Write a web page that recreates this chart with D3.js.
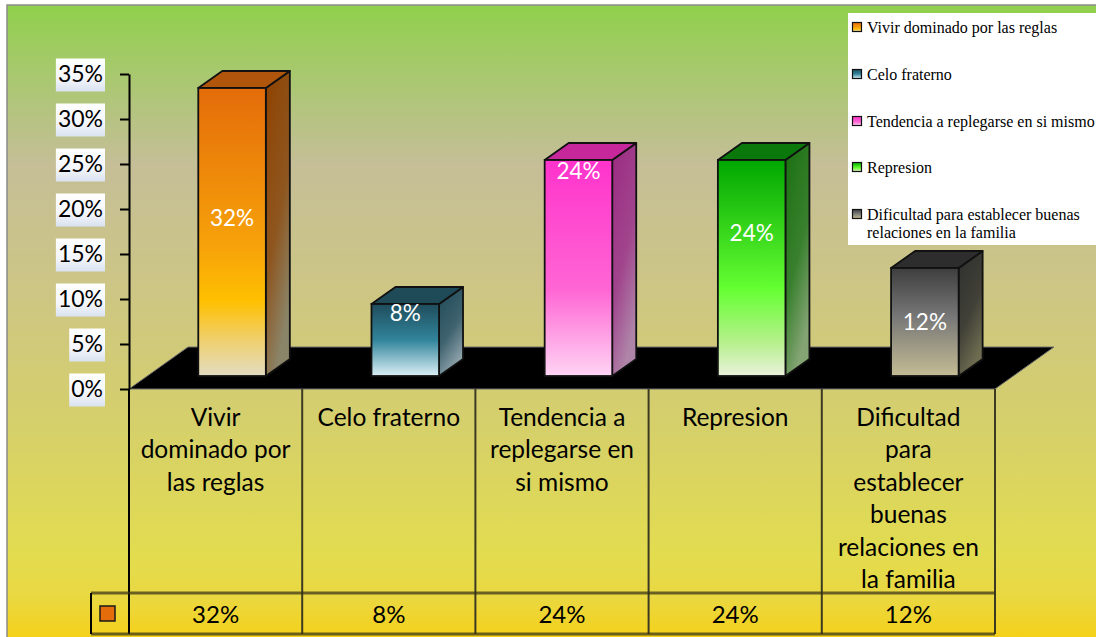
<!DOCTYPE html>
<html>
<head>
<meta charset="utf-8">
<script src="https://cdn.jsdelivr.net/npm/d3@7/dist/d3.min.js"></script>
<style>
  body { margin: 0; background: #fff; }
  svg { display: block; }
</style>
</head>
<body>
<div id="chart"></div>
<script>
// data
const categories = [
  'Vivir dominado por las reglas',
  'Celo fraterno',
  'Tendencia a replegarse en si mismo',
  'Represion',
  'Dificultad para establecer buenas relaciones en la familia'
];
const values = [32, 8, 24, 24, 12];
const categoryLines = [
  ['Vivir', 'dominado por', 'las reglas'],
  ['Celo fraterno'],
  ['Tendencia a', 'replegarse en', 'si mismo'],
  ['Represion'],
  ['Dificultad', 'para', 'establecer', 'buenas', 'relaciones en', 'la familia']
];
const legendLines = [
  ['Vivir dominado por las reglas'],
  ['Celo fraterno'],
  ['Tendencia a replegarse en si mismo'],
  ['Represion'],
  ['Dificultad para establecer buenas', 'relaciones en la familia']
];
const yTicks = [0, 5, 10, 15, 20, 25, 30, 35];
// level (in %) where each in-bar label was placed
const labelLevels = [17.6, 7.1, 22.8, 16, 6.1];

// face colours: [front stops], side [top,bottom], top
const palette = [
  { front: [[0, '#e46c0a'], [0.55, '#f7a20a'], [0.74, '#ffc000'], [0.87, '#f0cf6a'], [1, '#e2dcc2']], side: ['#8f4200', '#8a8468'], top: '#b0560c' },
  { front: [[0, '#1f4d5c'], [0.5, '#31849b'], [1, '#dcf0f6']], side: ['#1d4855', '#8ea2aa'], top: '#1f4b58' },
  { front: [[0, '#ff33cc'], [0.6, '#ff66d4'], [1, '#ffd4f4']], side: ['#9c2a82', '#ae84a8'], top: '#c6289c' },
  { front: [[0, '#00a600'], [0.6, '#66ff33'], [0.85, '#b8f08e'], [1, '#eaf2dc']], side: ['#197010', '#84a474'], top: '#0b780b' },
  { front: [[0, '#3e3e3e'], [0.45, '#777777'], [1, '#c4bc94']], side: ['#2e2e2e', '#6e6c50'], top: '#2d2d2d' }
];

const W = 1096, H = 637;
const font = 'Lato, "Open Sans", sans-serif';

const svg = d3.select('#chart').append('svg')
  .attr('width', W)
  .attr('height', H);

const defs = svg.append('defs');

const bg = defs.append('linearGradient')
  .attr('id', 'bg')
  .attr('x1', 0).attr('y1', 0).attr('x2', 0).attr('y2', 1);
[[0, '#90d04c'], [0.1, '#a6c96c'], [0.25, '#c5be97'], [0.45, '#cdc684'], [0.65, '#d5cf6c'], [0.86, '#e2dc50'], [0.93, '#ead841'], [1, '#f6d016']]
  .forEach(s => bg.append('stop').attr('offset', s[0]).attr('stop-color', s[1]));

const tickBg = defs.append('linearGradient')
  .attr('id', 'tickbg')
  .attr('x1', 0).attr('y1', 0).attr('x2', 0).attr('y2', 1);
tickBg.append('stop').attr('offset', 0).attr('stop-color', '#ffffff');
tickBg.append('stop').attr('offset', 0.6).attr('stop-color', '#f4f6fb');
tickBg.append('stop').attr('offset', 1).attr('stop-color', '#d9e2f0');

palette.forEach((p, i) => {
  const f = defs.append('linearGradient').attr('id', 'front' + i)
    .attr('x1', 0).attr('y1', 0).attr('x2', 0).attr('y2', 1);
  p.front.forEach(s => f.append('stop').attr('offset', s[0]).attr('stop-color', s[1]));
  const sd = defs.append('linearGradient').attr('id', 'side' + i)
    .attr('x1', 0).attr('y1', 0).attr('x2', 0.4).attr('y2', 1);
  sd.append('stop').attr('offset', 0).attr('stop-color', p.side[0]);
  sd.append('stop').attr('offset', 0.6).attr('stop-color', d3.interpolateRgb(p.side[0], p.side[1])(0.3));
  sd.append('stop').attr('offset', 1).attr('stop-color', p.side[1]);
});

// background
svg.append('rect')
  .attr('x', 7).attr('y', 5)
  .attr('width', W).attr('height', H)
  .attr('fill', 'url(#bg)')
  .attr('stroke', '#8a8a8a')
  .attr('stroke-width', 1.5);

// scales
const x = d3.scaleBand().domain(categories).range([129, 995]);
const y = d3.scaleLinear().domain([0, 35]).range([389, 74]);
const bw = x.bandwidth();

// floor
const floorDx = 59, floorDy = -42;
svg.append('path')
  .attr('d', `M${x.range()[0]},${y(0)}L${x.range()[1]},${y(0)}L${x.range()[1] + floorDx},${y(0) + floorDy}L${x.range()[0] + floorDx},${y(0) + floorDy}Z`)
  .attr('fill', '#000')
  .attr('stroke', '#6f6f6f')
  .attr('stroke-width', 1);

// bars
const barW = bw * 0.39, barOff = bw * 0.4;
const depthX = 24, depthY = -17, baseLift = 13;

const bars = svg.append('g')
  .selectAll('g')
  .data(categories)
  .join('g');

bars.each(function (c, i) {
  const g = d3.select(this);
  const x0 = x(c) + barOff, x1 = x0 + barW;
  const yb = y(0) - baseLift, yt = y(values[i]) - baseLift;

  g.append('path')
    .attr('d', `M${x1},${yt}L${x1 + depthX},${yt + depthY}L${x1 + depthX},${yb + depthY}L${x1},${yb}Z`)
    .attr('fill', `url(#side${i})`)
    .attr('stroke', '#111').attr('stroke-width', 1.8).attr('stroke-linejoin', 'round');
  g.append('path')
    .attr('d', `M${x0},${yt}L${x0 + depthX},${yt + depthY}L${x1 + depthX},${yt + depthY}L${x1},${yt}Z`)
    .attr('fill', palette[i].top)
    .attr('stroke', '#111').attr('stroke-width', 1.8).attr('stroke-linejoin', 'round');
  g.append('rect')
    .attr('x', x0).attr('y', yt)
    .attr('width', barW).attr('height', yb - yt)
    .attr('fill', `url(#front${i})`)
    .attr('stroke', '#111').attr('stroke-width', 1.8);

  g.append('text')
    .attr('x', x0 + barW / 2)
    .attr('y', y(labelLevels[i]) - baseLift)
    .attr('text-anchor', 'middle')
    .attr('dominant-baseline', 'central')
    .attr('font-family', font)
    .attr('font-size', '22.5px')
    .attr('fill', '#fff')
    .text(values[i] + '%');
});

// y axis
const axisG = svg.append('g')
  .attr('transform', `translate(${x.range()[0]},0)`)
  .call(d3.axisLeft(y).tickValues(yTicks).tickSize(9).tickSizeOuter(0).tickPadding(17).tickFormat(d => d + '%'));

axisG.select('.domain').attr('stroke', '#000').attr('stroke-width', 2);
axisG.selectAll('.tick line').attr('stroke', '#000').attr('stroke-width', 2);
axisG.selectAll('.tick text')
  .attr('font-family', font)
  .attr('font-size', '23px')
  .attr('fill', '#000');

axisG.selectAll('.tick').each(function () {
  const t = d3.select(this);
  const box = t.select('text').node().getBBox();
  t.insert('rect', 'text')
    .attr('x', box.x - 2)
    .attr('y', -16)
    .attr('width', box.width + 4)
    .attr('height', 33)
    .attr('fill', 'url(#tickbg)');
});

// data table below the floor
const table = svg.append('g');
const tTop = y(0), tMid = 593, tBot = 634, keyX = 91;
const colEdges = categories.map(c => x(c)).concat([x.range()[1]]);

table.selectAll('line.col')
  .data(colEdges)
  .join('line')
  .attr('x1', d => d).attr('x2', d => d)
  .attr('y1', tTop).attr('y2', tBot)
  .attr('stroke', (d, i) => i === 0 ? '#000' : '#3d3a22')
  .attr('stroke-width', 2);

table.selectAll('line.row')
  .data([tMid, tBot])
  .join('line')
  .attr('x1', keyX).attr('x2', x.range()[1])
  .attr('y1', d => d).attr('y2', d => d)
  .attr('stroke', 'rgba(50,45,20,0.7)')
  .attr('stroke-width', 3);

table.append('line')
  .attr('x1', keyX).attr('x2', keyX)
  .attr('y1', tMid).attr('y2', tBot)
  .attr('stroke', '#000').attr('stroke-width', 2);

table.append('rect')
  .attr('x', 100).attr('y', 606)
  .attr('width', 15).attr('height', 15)
  .attr('fill', '#e46c0a')
  .attr('stroke', '#1a1a1a').attr('stroke-width', 1.5);

categories.forEach((c, i) => {
  categoryLines[i].forEach((line, k) => {
    table.append('text')
      .attr('x', x(c) + bw / 2)
      .attr('y', 416 + k * 32.5)
      .attr('text-anchor', 'middle')
      .attr('dominant-baseline', 'central')
      .attr('font-family', font)
      .attr('font-size', '24.5px')
      .attr('fill', '#000')
      .text(line);
  });
});

table.selectAll('text.val')
  .data(categories)
  .join('text')
  .attr('x', d => x(d) + bw / 2)
  .attr('y', 613)
  .attr('text-anchor', 'middle')
  .attr('dominant-baseline', 'central')
  .attr('font-family', font)
  .attr('font-size', '24px')
  .attr('fill', '#000')
  .text((d, i) => values[i] + '%');

// legend
const legend = svg.append('g').attr('transform', 'translate(848,13)');
legend.append('rect')
  .attr('width', 260).attr('height', 232)
  .attr('fill', '#fff');

const legendY = [14, 61, 108, 154, 201];
legendLines.forEach((lines, i) => {
  legend.append('rect')
    .attr('x', 4.5).attr('y', legendY[i] - 4.5)
    .attr('width', 9).attr('height', 9)
    .attr('fill', `url(#front${i})`)
    .attr('stroke', '#111').attr('stroke-width', 1.2);
  lines.forEach((line, k) => {
    legend.append('text')
      .attr('x', 19)
      .attr('y', legendY[i] + k * 18)
      .attr('dominant-baseline', 'central')
      .attr('font-family', '"Liberation Serif", "DejaVu Serif", serif')
      .attr('font-size', '16px')
      .attr('fill', '#000')
      .text(line);
  });
});
</script>
</body>
</html>
